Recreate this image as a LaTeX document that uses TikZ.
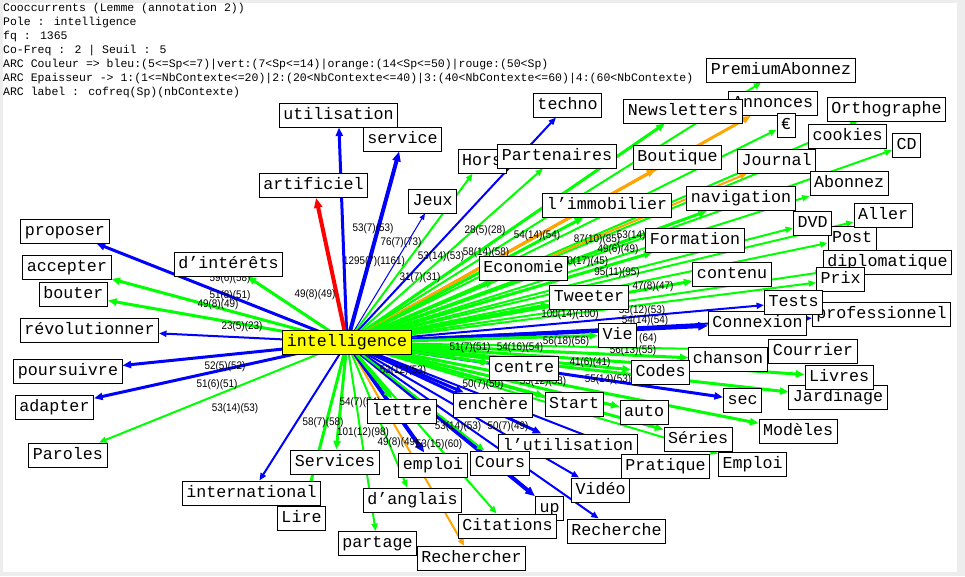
\documentclass[tikz,border=0pt]{standalone}
\usepackage{fontspec}
\newfontfamily\monof{Liberation Mono}
\newfontfamily\sansf{Liberation Sans}
\usetikzlibrary{arrows.meta}
\pgfdeclarelayer{bg}
\pgfdeclarelayer{lab}
\pgfsetlayers{bg,lab,main}
\definecolor{cblue}{RGB}{0,0,255}
\definecolor{cgreen}{RGB}{0,255,0}
\definecolor{corange}{RGB}{255,165,0}
\definecolor{cred}{RGB}{255,0,0}
\definecolor{cyel}{RGB}{255,255,0}
\tikzset{
  w/.style={draw=black, line width=1pt, fill=white, font=\monof\fontsize{16.67}{16.67}\selectfont,
    inner xsep=4pt, inner ysep=0pt, minimum height=24pt, text height=12pt, text depth=4pt},
  hd/.style={anchor=west, inner sep=0pt, font=\monof\fontsize{11.5}{11.5}\selectfont},
  lb/.style={inner sep=0pt, font=\sansf\fontsize{11}{11}\selectfont},
  arr/.style={-{Triangle[length=5pt 1.2,width=4pt 1]}},
  b1/.style={arr, draw=cblue, fill=cblue, line width=1pt},
  b2/.style={arr, draw=cblue, fill=cblue, line width=2pt},
  b3/.style={arr, draw=cblue, fill=cblue, line width=3pt},
  b4/.style={arr, draw=cblue, fill=cblue, line width=4pt},
  g2/.style={arr, draw=cgreen, fill=cgreen, line width=2pt},
  g3/.style={arr, draw=cgreen, fill=cgreen, line width=3pt},
  o2/.style={arr, draw=corange, fill=corange, line width=2pt},
  o3/.style={arr, draw=corange, fill=corange, line width=3pt},
  r4/.style={arr, draw=cred, fill=cred, line width=4pt},
}
\begin{document}
\begin{tikzpicture}[x=1pt,y=-1pt]
\useasboundingbox (0,0) rectangle (965,576);
% header
\node[hd] (h1) at (3,9) {Cooccurrents (Lemme (annotation 2))};
\node[hd] (h2) at (3,23) {Pole : intelligence};
\node[hd] (h3) at (3,37) {fq : 1365};
\node[hd] (h4) at (3,51) {Co-Freq : 2 | Seuil : 5};
\node[hd] (h5) at (3,65) {ARC Couleur => bleu:(5<=Sp<=7)|vert:(7<Sp<=14)|orange:(14<Sp<=50)|rouge:(50<Sp)};
\node[hd] (h6) at (3,79) {ARC Epaisseur -> 1:(1<=NbContexte<=20)|2:(20<NbContexte<=40)|3:(40<NbContexte<=60)|4:(60<NbContexte)};
\node[hd] (h7) at (3,93) {ARC label : cofreq(Sp)(nbContexte)};
% nodes
\node[w] (util) at (338.5,115) {utilisation};
\node[w] (serv) at (402.5,139) {service};
\node[w] (arti) at (313.5,185.5) {artificiel};
\node[w] (jeux) at (432.5,201) {Jeux};
\node[w] (hors) at (482,161) {Hors};
\node[w] (techno) at (567.5,105) {techno};
\node[w] (part) at (557,156) {Partenaires};
\node[w] (annon) at (773,103.5) {Annonces};
\node[w] (news) at (683,111) {Newsletters};
\node[w] (prem) at (781,70) {PremiumAbonnez};
\node[w] (euro) at (786,125) {€};
\node[w] (ortho) at (886.5,109) {Orthographe};
\node[w] (cook) at (847.5,136) {cookies};
\node[w] (cd) at (906.5,145) {CD};
\node[w] (boutq) at (677.5,157) {Boutique};
\node[w] (journ) at (776.5,161) {Journal};
\node[w] (abon) at (849,183.5) {Abonnez};
\node[w] (navig) at (741,198.5) {navigation};
\node[w] (post) at (852,238) {Post};
\node[w] (dvd) at (812.5,223) {DVD};
\node[w] (aller) at (883,215) {Aller};
\node[w] (diplo) at (887.5,262.5) {diplomatique};
\node[w] (prix) at (840.5,279.5) {Prix};
\node[w] (prof) at (881.5,314.5) {professionnel};
\node[w] (conn) at (757.5,323.5) {Connexion};
\node[w] (tests) at (793.5,302.5) {Tests};
\node[w] (courr) at (813,351) {Courrier};
\node[w] (chans) at (728,359.5) {chanson};
\node[w] (jard) at (838,397.5) {Jardinage};
\node[w] (livres) at (839,377) {Livres};
\node[w] (sec) at (742.5,400) {sec};
\node[w] (mod) at (798,431) {Modèles};
\node[w] (series) at (698,439) {Séries};
\node[w] (emplB) at (752.5,464) {Emploi};
\node[w] (lutil) at (568,446) {l’utilisation};
\node[w] (prat) at (665.5,466.5) {Pratique};
\node[w] (video) at (600.5,490) {Vidéo};
\node[w] (rech) at (616.5,531) {Recherche};
\node[w] (up) at (549.5,508) {up};
\node[w] (cit) at (507.5,526) {Citations};
\node[w] (recher) at (471.5,558.5) {Rechercher};
\node[w] (cours) at (500,463) {Cours};
\node[w] (emplA) at (433,465) {emploi};
\node[w] (angl) at (412.5,500) {d’anglais};
\node[w] (partage) at (377.5,543.5) {partage};
\node[w] (servs) at (335,462) {Services};
\node[w] (intl) at (251.5,493) {international};
\node[w] (lire) at (301.5,518) {Lire};
\node[w] (lettre) at (402,411) {lettre};
\node[w] (ench) at (493,405) {enchère};
\node[w] (centre) at (524,368) {centre};
\node[w] (start) at (574,404) {Start};
\node[w] (auto) at (644,412.5) {auto};
\node[w] (codes) at (660.5,372.5) {Codes};
\node[w] (vie) at (617.5,335) {Vie};
\node[w] (tweet) at (589,297) {Tweeter};
\node[w] (eco) at (523.5,268.5) {Economie};
\node[w] (cont) at (732,274) {contenu};
\node[w] (form) at (695,240) {Formation};
\node[w] (immo) at (607,205) {l’immobilier};
\node[w] (inter) at (228.5,264) {d’intérêts};
\node[w] (prop) at (65,231) {proposer};
\node[w] (acc) at (67,267) {accepter};
\node[w] (bouter) at (73.5,294.5) {bouter};
\node[w] (revo) at (89.5,330) {révolutionner};
\node[w] (pours) at (68,371) {poursuivre};
\node[w] (adapt) at (54.5,407) {adapter};
\node[w] (parol) at (68,455) {Paroles};
\node[w, fill=cyel] (C) at (347,342.5) {intelligence};
% edges
\begin{pgfonlayer}{bg}
\fill[black!7] (0,0) rectangle (965,576);
\fill[white] (3,3) rectangle (957,572);
\draw[b3] (C.center) -- (util);
\draw[b4] (C.center) -- (serv);
\draw[r4] (C.center) -- (arti);
\draw[b1] (C.center) -- (jeux);
\draw[g2] (C.center) -- (hors);
\draw[b2] (C.center) -- (techno);
\draw[g2] (C.center) -- (part);
\draw[g3] (C.center) -- (news);
\draw[o3] (C.center) -- (annon);
\draw[g2] (C.center) -- (prem);
\draw[g2] (C.center) -- (euro);
\draw[g2] (C.center) -- (ortho);
\draw[g2] (C.center) -- (cook);
\draw[g2] (C.center) -- (cd);
\draw[o3] (C.center) -- (boutq);
\draw[o2] (C.center) -- (journ);
\draw[g2] (C.center) -- (abon);
\draw[g3] (C.center) -- (navig);
\draw[g2] (C.center) -- (dvd);
\draw[g2] (C.center) -- (aller);
\draw[g2] (C.center) -- (post);
\draw[g2] (C.center) -- (diplo);
\draw[g2] (C.center) -- (prix);
\draw[b2] (C.center) -- (tests);
\draw[b2] (C.center) -- (prof);
\draw[b4] (C.center) -- (conn);
\draw[g2] (C.center) -- (courr);
\draw[g3] (C.center) -- (chans);
\draw[g3] (C.center) -- (livres);
\draw[g3] (C.center) -- (jard);
\draw[b3] (C.center) -- (sec);
\draw[g3] (C.center) -- (mod);
\draw[g3] (C.center) -- (series);
\draw[g2] (C.center) -- (emplB);
\draw[b2] (C.center) -- (prat);
\draw[b2] (C.center) -- (video);
\draw[b2] (C.center) -- (rech);
\draw[b4] (C.center) -- (up);
\draw[g2] (C.center) -- (cit);
\draw[o2] (C.center) -- (recher);
\draw[g2] (C.center) -- (cours);
\draw[b3] (C.center) -- (lutil);
\draw[b4] (C.center) -- (emplA);
\draw[g2] (C.center) -- (angl);
\draw[g2] (C.center) -- (partage);
\draw[g3] (C.center) -- (servs);
\draw[b2] (C.center) -- (intl);
\draw[g3] (C.center) -- (lire);
\draw[g3] (C.center) -- (lettre);
\draw[b3] (C.center) -- (ench);
\draw[g3] (C.center) -- (centre);
\draw[g3] (C.center) -- (start);
\draw[g3] (C.center) -- (auto);
\draw[g3] (C.center) -- (codes);
\draw[g3] (C.center) -- (vie);
\draw[g3] (C.center) -- (tweet);
\draw[g3] (C.center) -- (eco);
\draw[g3] (C.center) -- (cont);
\draw[g3] (C.center) -- (form);
\draw[g3] (C.center) -- (immo);
\draw[g3] (C.center) -- (inter);
\draw[b3] (C.center) -- (prop);
\draw[g3] (C.center) -- (acc);
\draw[g3] (C.center) -- (bouter);
\draw[b2] (C.center) -- (revo);
\draw[b3] (C.center) -- (pours);
\draw[b3] (C.center) -- (adapt);
\draw[g2] (C.center) -- (parol);
\end{pgfonlayer}
% edge labels
\begin{pgfonlayer}{lab}
\node[lb] (l1) at (373,229) {\scalebox{0.9}[1]{53(7)(53)}};
\node[lb] (l2) at (401,243) {\scalebox{0.9}[1]{76(7)(73)}};
\node[lb] (l3) at (374,262) {\scalebox{0.9}[1]{1295(7)(1161)}};
\node[lb] (l4) at (420,278) {\scalebox{0.9}[1]{31(7)(31)}};
\node[lb] (l5) at (441,257) {\scalebox{0.9}[1]{53(14)(53)}};
\node[lb] (l6) at (486,253) {\scalebox{0.9}[1]{58(14)(58)}};
\node[lb] (l7) at (485,231) {\scalebox{0.9}[1]{28(5)(28)}};
\node[lb] (l8) at (315,295) {\scalebox{0.9}[1]{49(8)(49)}};
\node[lb] (l9) at (230,279) {\scalebox{0.9}[1]{59(6)(58)}};
\node[lb] (l10) at (230,296) {\scalebox{0.9}[1]{51(8)(51)}};
\node[lb] (l11) at (218,305) {\scalebox{0.9}[1]{49(8)(49)}};
\node[lb] (l12) at (242,327) {\scalebox{0.9}[1]{23(5)(23)}};
\node[lb] (l13) at (225,367) {\scalebox{0.9}[1]{52(5)(52)}};
\node[lb] (l14) at (217,385) {\scalebox{0.9}[1]{51(6)(51)}};
\node[lb] (l15) at (235,409) {\scalebox{0.9}[1]{53(14)(53)}};
\node[lb] (l16) at (537,236) {\scalebox{0.9}[1]{54(14)(54)}};
\node[lb] (l17) at (597,240) {\scalebox{0.9}[1]{87(10)(85)}};
\node[lb] (l18) at (585,262) {\scalebox{0.9}[1]{80(17)(45)}};
\node[lb] (l19) at (617,273) {\scalebox{0.9}[1]{95(11)(95)}};
\node[lb] (l20) at (653,287) {\scalebox{0.9}[1]{47(8)(47)}};
\node[lb] (l21) at (570,315) {\scalebox{0.9}[1]{100(14)(100)}};
\node[lb] (l22) at (642,311) {\scalebox{0.9}[1]{53(12)(53)}};
\node[lb] (l23) at (645,321) {\scalebox{0.9}[1]{54(14)(54)}};
\node[lb] (l24) at (648,339) {\scalebox{0.9}[1]{(64)}};
\node[lb] (l25) at (633,351) {\scalebox{0.9}[1]{56(13)(55)}};
\node[lb] (l26) at (608,380) {\scalebox{0.9}[1]{55(14)(53)}};
\node[lb] (l27) at (470,348) {\scalebox{0.9}[1]{51(7)(51)}};
\node[lb] (l28) at (403,371) {\scalebox{0.9}[1]{53(12)(53)}};
\node[lb] (l29) at (483,385) {\scalebox{0.9}[1]{50(7)(50)}};
\node[lb] (l30) at (323,423) {\scalebox{0.9}[1]{58(7)(58)}};
\node[lb] (l31) at (363,433) {\scalebox{0.9}[1]{101(12)(98)}};
\node[lb] (l32) at (398,443) {\scalebox{0.9}[1]{49(8)(49)}};
\node[lb] (l33) at (439,445) {\scalebox{0.9}[1]{53(15)(60)}};
\node[lb] (l34) at (458,427) {\scalebox{0.9}[1]{53(14)(53)}};
\node[lb] (l35) at (508,427) {\scalebox{0.9}[1]{50(7)(49)}};
\node[lb] (l36) at (640,236) {\scalebox{0.9}[1]{53(14)(53)}};
\node[lb] (l37) at (618,250) {\scalebox{0.9}[1]{49(6)(49)}};
\node[lb] (l39) at (566,342) {\scalebox{0.9}[1]{56(18)(56)}};
\node[lb] (l40) at (520,348) {\scalebox{0.9}[1]{54(16)(54)}};
\node[lb] (l41) at (360,403) {\scalebox{0.9}[1]{54(7)(54)}};
\node[lb] (l42) at (543,382) {\scalebox{0.9}[1]{53(12)(53)}};
\node[lb] (l43) at (590,363) {\scalebox{0.9}[1]{41(6)(41)}};
\end{pgfonlayer}
\end{tikzpicture}
\end{document}
